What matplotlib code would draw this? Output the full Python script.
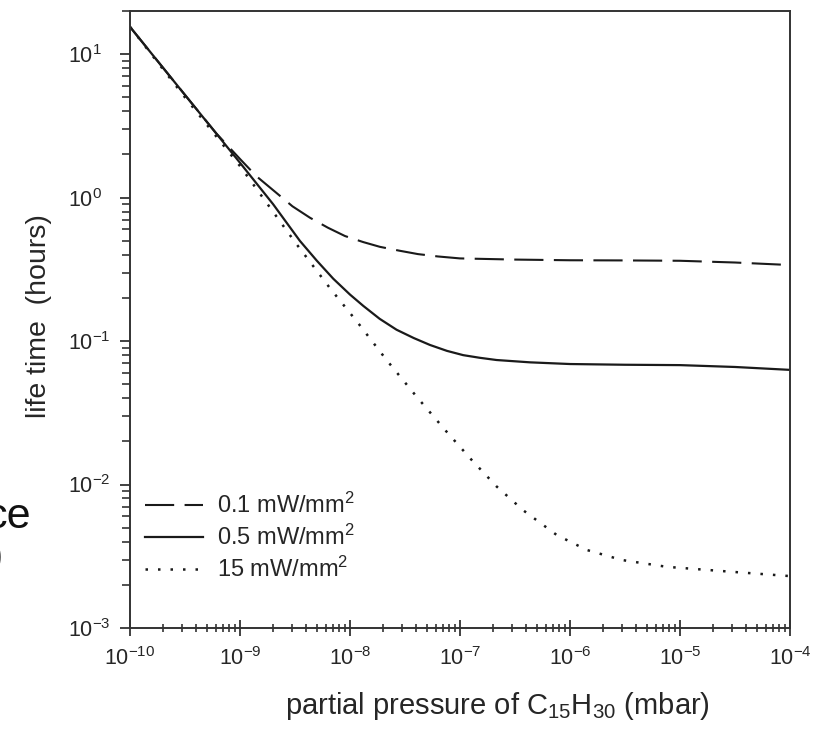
import matplotlib
matplotlib.use('Agg')
import matplotlib.pyplot as plt
from matplotlib.ticker import FixedLocator, FixedFormatter, LogLocator, NullFormatter

plt.rcParams['font.family'] = ['Liberation Sans', 'DejaVu Sans']
plt.rcParams['mathtext.fontset'] = 'custom'
plt.rcParams['mathtext.rm'] = 'Liberation Sans'
plt.rcParams['mathtext.it'] = 'Liberation Sans:italic'
plt.rcParams['mathtext.bf'] = 'Liberation Sans:bold'
plt.rcParams['mathtext.default'] = 'regular'

# ---- data ----
p_01 = [1e-10, 3.16e-10, 6.1e-10, 1e-9, 1.41e-9, 2.08e-9, 3.0e-9, 4.33e-9,
        6.3e-9, 9.0e-9, 1.32e-8, 1.87e-8, 2.8e-8, 4.15e-8, 6.3e-8, 1e-7,
        3.16e-7, 1e-6, 3.16e-6, 1e-5, 3.16e-5, 1e-4]
t_01 = [15.5, 5.2, 2.80, 1.86, 1.41, 1.10, 0.87, 0.724,
        0.617, 0.540, 0.490, 0.454, 0.427, 0.404, 0.389, 0.377,
        0.370, 0.366, 0.365, 0.363, 0.353, 0.339]

p_05 = [1e-10, 3.16e-10, 1e-9, 2.0e-9, 3.5e-9, 5.0e-9, 7.05e-9, 1e-8,
        1.32e-8, 1.86e-8, 2.65e-8, 3.8e-8, 5.33e-8, 7.6e-8, 1.07e-7, 1.51e-7,
        2.15e-7, 4.33e-7, 1e-6, 3.16e-6, 1e-5, 3.16e-5, 1e-4]
t_05 = [15.5, 5.2, 1.75, 0.90, 0.50, 0.363, 0.272, 0.211,
        0.176, 0.143, 0.120, 0.105, 0.094, 0.0855, 0.0798, 0.0765,
        0.0738, 0.0711, 0.0692, 0.0684, 0.068, 0.066, 0.063]

p_15 = [1e-10, 3.16e-10, 1e-9, 3.16e-9, 6.6e-9, 1.19e-8, 2.15e-8, 4.04e-8,
        7.57e-8, 1.28e-7, 2.15e-7, 3.77e-7, 7.57e-7, 1.42e-6, 2.95e-6, 7.57e-6,
        2.85e-5, 1e-4]
t_15 = [15.5, 5.0, 1.66, 0.49, 0.233, 0.133, 0.0738, 0.0409,
        0.0233, 0.0148, 0.0097, 0.0066, 0.00445, 0.0035, 0.00298, 0.00267,
        0.00247, 0.0023]

series_labels = ['0.1 mW/mm$^{2}$', '0.5 mW/mm$^{2}$', '15 mW/mm$^{2}$']

x_ticks = [1e-10, 1e-9, 1e-8, 1e-7, 1e-6, 1e-5, 1e-4]
x_tick_labels = ['$10^{-10}$', '$10^{-9}$', '$10^{-8}$', '$10^{-7}$',
                 '$10^{-6}$', '$10^{-5}$', '$10^{-4}$']
y_ticks = [1e-3, 1e-2, 1e-1, 1e0, 1e1]
y_tick_labels = ['$10^{-3}$', '$10^{-2}$', '$10^{-1}$', '$10^{0}$', '$10^{1}$']

x_label = 'partial pressure of C$_{15}$H$_{30}$ (mbar)'
y_label = 'life time  (hours)'

# ---- figure ----
ink = '#1a1a1a'
txt = '#262626'
fig = plt.figure(figsize=(8.15, 7.3), dpi=100)
W, H = 815, 730
ax = fig.add_axes([130 / W, 1 - 628 / H, 660 / W, 617 / H])

ax.plot(p_01, t_01, color=ink, lw=1.5, linestyle=(0, (14, 5)), label=series_labels[0])
ax.plot(p_05, t_05, color=ink, lw=1.6, linestyle='-', label=series_labels[1])
ax.plot(p_15, t_15, color=ink, lw=1.8, linestyle=(0, (1, 4)), label=series_labels[2])

ax.set_xscale('log')
ax.set_yscale('log')
ax.set_xlim(1e-10, 1e-4)
ax.set_ylim(1e-3, 20)

ax.xaxis.set_major_locator(FixedLocator(x_ticks))
ax.xaxis.set_major_formatter(FixedFormatter(x_tick_labels))
ax.yaxis.set_major_locator(FixedLocator(y_ticks))
ax.yaxis.set_major_formatter(FixedFormatter(y_tick_labels))
ax.xaxis.set_minor_locator(LogLocator(base=10, subs=range(2, 10), numticks=20))
ax.yaxis.set_minor_locator(LogLocator(base=10, subs=range(2, 10), numticks=20))
ax.xaxis.set_minor_formatter(NullFormatter())
ax.yaxis.set_minor_formatter(NullFormatter())

for s in ax.spines.values():
    s.set_color('#333333')
    s.set_linewidth(1.4)

ax.tick_params(axis='x', which='major', direction='inout', length=11, width=1.3,
               color='#333333', labelsize=15.5, labelcolor=txt, pad=8)
ax.tick_params(axis='x', which='minor', direction='inout', length=6, width=1.2,
               color='#333333')
ax.tick_params(axis='y', which='major', direction='out', length=7.5, width=1.3,
               color='#333333', labelsize=15.5, labelcolor=txt, pad=(130 - 68 - 10) / 1.389)
ax.tick_params(axis='y', which='minor', direction='out', length=5.5, width=1.2,
               color='#333333')
for lab in ax.get_yticklabels():
    lab.set_horizontalalignment('left')

ax.set_xlabel(x_label, fontsize=21, color=txt)
ax.xaxis.set_label_coords((497 - 130) / 660, -(690 - 628) / 617)
ax.set_ylabel(y_label, fontsize=20.5, color=txt)
ax.yaxis.set_label_coords((52 - 130) / 660, 0.505)

leg = ax.legend(loc='lower left', bbox_to_anchor=(15 / 660, (628 - 582) / 617),
                frameon=False, fontsize=17, handlelength=2.46, handletextpad=0.59,
                labelspacing=0.28, borderpad=0, borderaxespad=0)
for t in leg.get_texts():
    t.set_color(txt)

# cropped caption fragments at the left edge of the picture
fig.text(31 / W, 1 - 528 / H, 'ce', fontsize=31, color='#111111',
         ha='right', va='baseline')
fig.text(3 / W, 1 - 568 / H, ')', fontsize=31, color='#111111',
         ha='right', va='baseline')

fig.savefig('out.png', dpi=100)
